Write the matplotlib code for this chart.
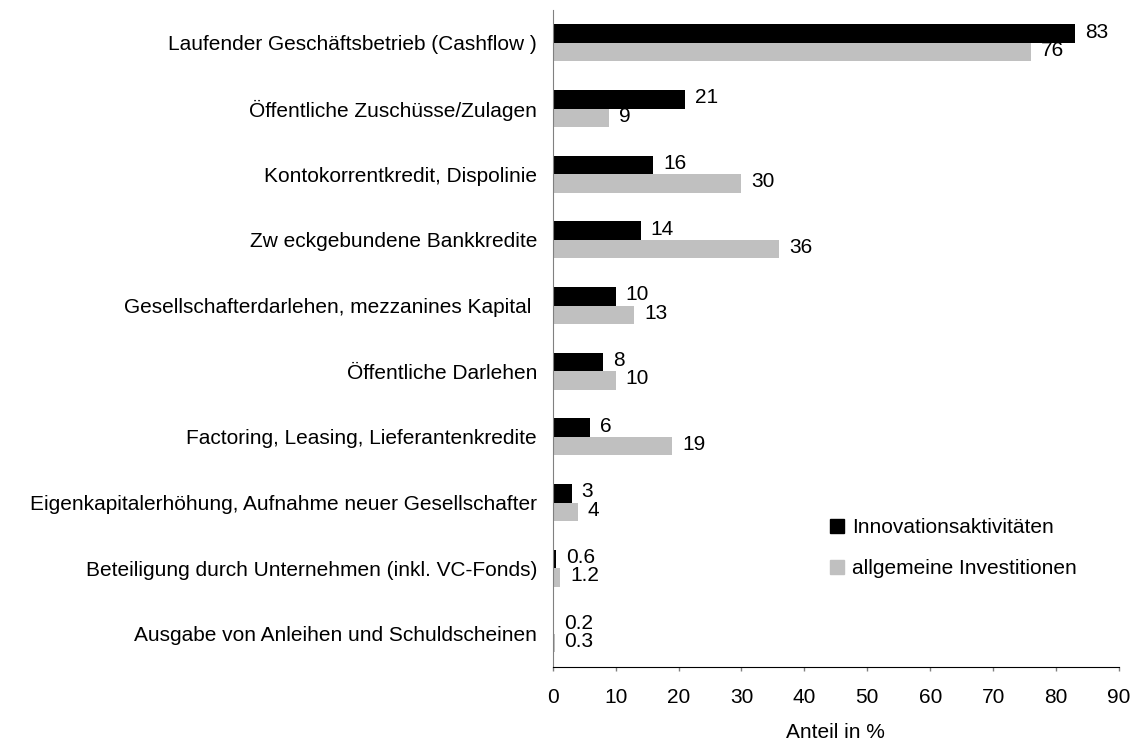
import matplotlib
matplotlib.use("Agg")
import matplotlib.pyplot as plt
import numpy as np
from matplotlib.patches import Patch

categories = [
    "Laufender Geschäftsbetrieb (Cashflow )",
    "Öffentliche Zuschüsse/Zulagen",
    "Kontokorrentkredit, Dispolinie",
    "Zw eckgebundene Bankkredite",
    "Gesellschafterdarlehen, mezzanines Kapital ",
    "Öffentliche Darlehen",
    "Factoring, Leasing, Lieferantenkredite",
    "Eigenkapitalerhöhung, Aufnahme neuer Gesellschafter",
    "Beteiligung durch Unternehmen (inkl. VC-Fonds)",
    "Ausgabe von Anleihen und Schuldscheinen",
]
innovation = [83, 21, 16, 14, 10, 8, 6, 3, 0.6, 0.2]
investition = [76, 9, 30, 36, 13, 10, 19, 4, 1.2, 0.3]
series_names = ["Innovationsaktivitäten", "allgemeine Investitionen"]
xticks = [0, 10, 20, 30, 40, 50, 60, 70, 80, 90]

plt.rcParams['font.family'] = ['Liberation Sans', 'DejaVu Sans']
FS = 15

fig = plt.figure(figsize=(11.37, 7.42), dpi=100)
ax = fig.add_axes([552.7/1137, 1-666.7/742, (1119-552.7)/1137, (666.7-10)/742])

n = len(categories)
y = np.arange(n)
h = 0.28
ax.barh(y - h/2, innovation, height=h, color='black', label=series_names[0])
ax.barh(y + h/2, investition, height=h, color='#c0c0c0', label=series_names[1])

def fmt(v):
    return f"{v:g}"

for yi, v in zip(y, innovation):
    ax.annotate(fmt(v), (v, yi - h/2), xytext=(7, 1), textcoords='offset points',
                ha='left', va='center', fontsize=FS)
for yi, v in zip(y, investition):
    ax.annotate(fmt(v), (v, yi + h/2), xytext=(7, 1), textcoords='offset points',
                ha='left', va='center', fontsize=FS)

ax.set_ylim(n - 0.5, -0.5)
ax.set_xlim(0, 90)
ax.set_xticks(xticks)
ax.set_yticks(y)
ax.set_yticklabels(categories, fontsize=FS)
ax.tick_params(axis='y', length=0, pad=11.3)
ax.tick_params(axis='x', length=3, width=1, color='#808080', labelsize=FS, pad=12)
ax.set_xlabel("Anteil in %", fontsize=FS, labelpad=12)
for s in ['top', 'right']:
    ax.spines[s].set_visible(False)
ax.spines['left'].set_color('#808080')
ax.spines['bottom'].set_color('black')

handles = [Patch(color='black'), Patch(color='#c0c0c0')]
fig.legend(handles, series_names, loc='upper left', bbox_to_anchor=(830/1137, 1-518/742),
           frameon=False, fontsize=FS, handlelength=0.67, handleheight=0.67,
           handletextpad=0.4, labelspacing=1.07, borderpad=0, borderaxespad=0)

fig.savefig("out.png", dpi=100)
